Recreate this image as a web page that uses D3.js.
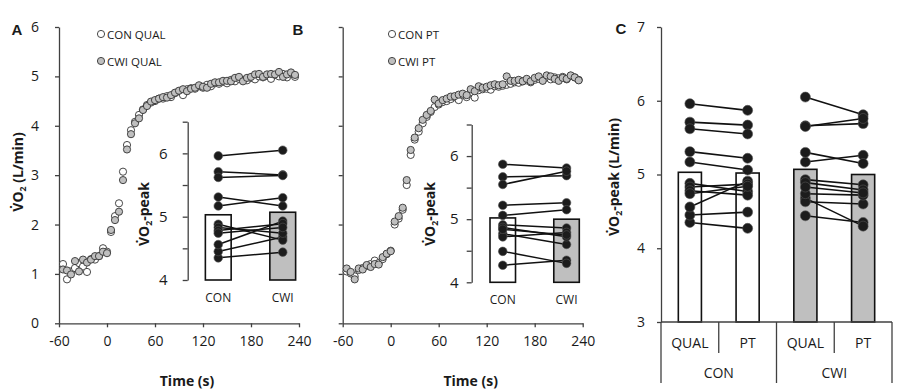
<!DOCTYPE html>
<html>
<head>
<meta charset="utf-8">
<script src="https://cdn.jsdelivr.net/npm/d3@7"></script>
<style>
body{margin:0;background:#fff;}
text{font-family:"Open Sans",sans-serif;fill:#1a1a1a;}
</style>
</head>
<body>
<script>
// time (s) of each breath-averaged sample
const times = [-55,-50,-45,-40,-35,-30,-25,-20,-15,-10,-5,0,5,10,15,20,25,30,35,40,45,50,55,60,65,70,75,80,85,90,95,100,105,110,115,120,125,130,135,140,145,150,155,160,165,170,175,180,185,190,195,200,205,210,215,220,225,230,235];

// panel A: VO2 (L/min) qualification run
const conQualCurve = [1.20,0.89,1.05,1.12,1.22,1.15,1.04,1.30,1.29,1.36,1.52,1.45,1.85,2.17,2.43,3.07,3.61,3.91,4.08,4.22,4.33,4.42,4.47,4.50,4.55,4.55,4.60,4.58,4.66,4.70,4.62,4.74,4.76,4.75,4.80,4.77,4.83,4.80,4.86,4.85,4.89,4.86,4.93,4.90,4.95,4.93,4.92,4.97,4.94,5.00,4.98,5.01,4.95,5.03,5.00,5.05,4.98,5.06,4.99];
const cwiQualCurve = [1.09,1.07,0.99,1.26,1.05,1.29,1.23,1.29,1.36,1.36,1.45,1.42,1.89,2.09,2.26,2.90,3.52,3.83,4.05,4.15,4.32,4.40,4.49,4.52,4.55,4.58,4.57,4.62,4.67,4.71,4.74,4.70,4.75,4.77,4.82,4.79,4.77,4.85,4.88,4.88,4.91,4.91,4.90,4.97,4.99,4.90,4.97,4.99,5.04,5.05,4.99,5.04,5.05,5.04,5.09,4.99,5.04,5.08,5.03];

// panel B: VO2 (L/min) performance test
const conPtCurve = [1.05,1.01,0.95,1.08,1.12,1.16,1.20,1.27,1.22,1.30,1.40,1.47,2.00,2.12,2.30,2.80,3.41,3.72,3.88,4.05,4.18,4.28,4.38,4.43,4.48,4.50,4.54,4.58,4.52,4.62,4.58,4.68,4.57,4.72,4.74,4.75,4.73,4.80,4.79,4.81,4.83,4.85,4.88,4.87,4.90,4.92,4.88,4.93,4.95,4.92,4.98,4.94,4.98,4.96,4.99,4.94,5.01,4.98,4.93];
const cwiPtCurve = [1.11,1.04,0.89,1.11,1.09,1.18,1.14,1.20,1.19,1.34,1.41,1.46,2.06,2.17,2.34,2.90,3.51,3.76,3.95,4.12,4.22,4.30,4.53,4.45,4.52,4.55,4.59,4.60,4.63,4.65,4.62,4.74,4.70,4.80,4.77,4.79,4.82,4.84,4.82,4.84,5.00,4.91,4.91,4.93,4.90,4.95,4.90,4.97,5.00,4.91,5.02,5.00,4.95,4.91,4.97,4.95,5.02,4.98,4.92];

// individual VO2-peak (L/min), same subject order in every array
const conQualPeak = [5.96,5.71,5.62,5.31,5.17,4.35,4.45,4.56,4.88,4.83,4.78,4.74];
const conPtPeak   = [5.87,5.67,5.55,5.22,5.06,4.27,4.49,4.91,4.77,4.87,4.72,4.84];
const cwiQualPeak = [6.05,5.66,5.65,5.17,5.30,4.44,4.68,4.93,4.63,4.74,4.89,4.83];
const cwiPtPeak   = [5.81,5.69,5.76,5.26,5.15,4.35,4.30,4.86,4.60,4.72,4.79,4.75];

// group means (bars)
const qualMeans = [5.03, 5.07];   // CON, CWI
const ptMeans   = [5.02, 5.00];   // CON, CWI

const groups = ["CON", "CWI"];
const sessions = ["QUAL", "PT"];
const timeTicks = [-60, 0, 60, 120, 180, 240];

const axisColor = "#404040";
const grayFill = "#bfbfbf";

const svg = d3.select("body").append("svg")
  .attr("width", 906).attr("height", 391);

function styleAxis(g, fontSize){
  g.attr("font-family", null).attr("font-size", null);
  g.select(".domain").attr("stroke", axisColor).attr("stroke-width", 1.3);
  g.selectAll(".tick line").attr("stroke", axisColor).attr("stroke-width", 1.3);
  g.selectAll(".tick text").attr("font-size", fontSize).attr("fill", "#1a1a1a");
}

function vo2Label(x, y, suffix, size){
  const t = svg.append("text")
    .attr("transform", "translate(" + x + "," + y + ") rotate(-90)")
    .attr("text-anchor", "middle")
    .attr("font-weight", "bold")
    .attr("font-size", size);
  t.append("tspan").text("V\u0307O");
  t.append("tspan").attr("font-size", size*0.62).attr("dy", 3).text("2");
  t.append("tspan").attr("dy", -3).text(suffix);
}

const yMain = d3.scaleLinear().domain([0, 6]).range([323.3, 27]);

function drawCurvePanel(x0, con, cwi, legend, legendX, letter, letterX){
  const x = d3.scaleLinear().domain([-60, 240]).range([x0, x0 + 240]);

  styleAxis(svg.append("g")
    .attr("transform", "translate(0," + yMain(0) + ")")
    .call(d3.axisBottom(x).tickValues(timeTicks).tickFormat(d => String(d))
      .tickSize(4).tickSizeOuter(0).tickPadding(9)), 14);

  if (x0 < 100) {
    styleAxis(svg.append("g")
      .attr("transform", "translate(" + x0 + ",0)")
      .call(d3.axisLeft(yMain).ticks(6).tickSize(4).tickSizeOuter(0).tickPadding(16)), 14);
  } else {
    styleAxis(svg.append("g")
      .attr("transform", "translate(" + x0 + ",0)")
      .call(d3.axisLeft(yMain).ticks(6).tickSize(4).tickSizeOuter(0).tickFormat("")), 14);
  }

  [[con, "#fff"], [cwi, grayFill]].forEach(([vals, fill]) => {
    svg.append("g").selectAll("circle")
      .data(vals)
      .enter().append("circle")
      .attr("cx", (d, i) => x(times[i]))
      .attr("cy", d => yMain(d))
      .attr("r", 3.6)
      .attr("fill", fill)
      .attr("stroke", "#333")
      .attr("stroke-width", 0.9);
  });

  // legend
  legend.forEach((lab, i) => {
    svg.append("circle")
      .attr("cx", legendX).attr("cy", 34 + i*27).attr("r", 3.6)
      .attr("fill", i == 0 ? "#fff" : grayFill)
      .attr("stroke", "#333").attr("stroke-width", 0.9);
    svg.append("text")
      .attr("x", legendX + 6).attr("y", 38.5 + i*27)
      .attr("font-size", 11.5)
      .text(lab);
  });

  svg.append("text")
    .attr("x", x0 + 128).attr("y", 386)
    .attr("text-anchor", "middle")
    .attr("font-weight", "bold")
    .attr("font-size", 14)
    .text("Time (s)");

  svg.append("text")
    .attr("x", letterX).attr("y", 35)
    .attr("text-anchor", "middle")
    .style("font-family", "'Liberation Sans', Arial, sans-serif")
    .attr("font-weight", "bold")
    .attr("font-size", 15)
    .text(letter);
}

function drawInset(axisX, y4, y65, rangeEnd, padOuter, labelPad, left, right, means, labelX){
  const y = d3.scaleLinear().domain([4, 6.5]).range([y4, y65]);
  const x = d3.scaleBand().domain(groups).range([axisX, rangeEnd])
    .paddingInner(0.6).paddingOuter(padOuter);

  styleAxis(svg.append("g")
    .attr("transform", "translate(" + axisX + ",0)")
    .call(d3.axisLeft(y).tickValues([4, 4.5, 5, 5.5, 6, 6.5])
      .tickFormat(d => (d % 1 == 0 && d < 6.5) ? String(d) : "")
      .tickSize(5).tickSizeOuter(0).tickPadding(labelPad)), 15);

  svg.append("g").selectAll("rect")
    .data(groups)
    .enter().append("rect")
    .attr("x", d => x(d))
    .attr("y", (d, i) => y(means[i]))
    .attr("width", x.bandwidth())
    .attr("height", (d, i) => y(4) - y(means[i]))
    .attr("fill", (d, i) => i == 0 ? "#fff" : grayFill)
    .attr("stroke", "#111")
    .attr("stroke-width", 1.6);

  const cx0 = x("CON") + x.bandwidth()/2;
  const cx1 = x("CWI") + x.bandwidth()/2;
  svg.append("g").selectAll("line")
    .data(left)
    .enter().append("line")
    .attr("x1", cx0).attr("y1", d => y(d))
    .attr("x2", cx1).attr("y2", (d, i) => y(right[i]))
    .attr("stroke", "#111").attr("stroke-width", 1.5);
  [[left, cx0], [right, cx1]].forEach(([vals, cx]) => {
    svg.append("g").selectAll("circle")
      .data(vals)
      .enter().append("circle")
      .attr("cx", cx).attr("cy", d => y(d)).attr("r", 4.3)
      .attr("fill", "#1c1c1c").attr("stroke", "#555").attr("stroke-width", 0.6);
  });

  svg.append("g").selectAll("text")
    .data(groups)
    .enter().append("text")
    .attr("x", d => x(d) + x.bandwidth()/2)
    .attr("y", y4 + 22)
    .attr("text-anchor", "middle")
    .attr("font-size", 12)
    .text(d => d);

  vo2Label(labelX, 214, "-peak", 14);
}

// panel A
drawCurvePanel(59, conQualCurve, cwiQualCurve, ["CON QUAL", "CWI QUAL"], 101, "A", 17);
drawInset(187.7, 280, 121.7, 313.3, 0.274, 15, conQualPeak, cwiQualPeak, qualMeans, 149);

// panel B
drawCurvePanel(342.7, conPtCurve, cwiPtCurve, ["CON PT", "CWI PT"], 392, "B", 298);
drawInset(471.7, 282.3, 124.5, 597.6, 0.287, 8, conPtPeak, cwiPtPeak, ptMeans, 435);

vo2Label(23, 172, " (L/min)", 14);

// panel C
const cats = ["CON QUAL", "CON PT", "CWI QUAL", "CWI PT"];
const catMeans = [qualMeans[0], ptMeans[0], qualMeans[1], ptMeans[1]];
const yC = d3.scaleLinear().domain([3, 7]).range([322, 27]);
const xC = d3.scaleBand().domain(cats).range([661, 892])
  .paddingInner(0.6).paddingOuter(0.3);

styleAxis(svg.append("g")
  .attr("transform", "translate(661,0)")
  .call(d3.axisLeft(yC).ticks(4).tickSize(4).tickSizeOuter(0).tickPadding(12)), 14);

svg.append("g").selectAll("rect")
  .data(cats)
  .enter().append("rect")
  .attr("x", d => xC(d))
  .attr("y", (d, i) => yC(catMeans[i]))
  .attr("width", xC.bandwidth())
  .attr("height", (d, i) => yC(3) - yC(catMeans[i]))
  .attr("fill", (d, i) => i < 2 ? "#fff" : grayFill)
  .attr("stroke", "#111")
  .attr("stroke-width", 1.6);

const mid = c => xC(c) + xC.bandwidth()/2;
[[conQualPeak, conPtPeak, "CON"], [cwiQualPeak, cwiPtPeak, "CWI"]].forEach(([a, b, g]) => {
  const xa = mid(g + " QUAL"), xb = mid(g + " PT");
  svg.append("g").selectAll("line")
    .data(a)
    .enter().append("line")
    .attr("x1", xa).attr("y1", d => yC(d))
    .attr("x2", xb).attr("y2", (d, i) => yC(b[i]))
    .attr("stroke", "#111").attr("stroke-width", 1.6);
  [[a, xa], [b, xb]].forEach(([vals, cx]) => {
    svg.append("g").selectAll("circle")
      .data(vals)
      .enter().append("circle")
      .attr("cx", cx).attr("cy", d => yC(d)).attr("r", 5)
      .attr("fill", "#1c1c1c").attr("stroke", "#555").attr("stroke-width", 0.6);
  });
});

// two-level category axis
const r0 = xC.range()[0];
const step = xC.step();
svg.append("line")
  .attr("x1", r0).attr("x2", xC.range()[1])
  .attr("y1", yC(3)).attr("y2", yC(3))
  .attr("stroke", axisColor).attr("stroke-width", 1.3);
svg.append("g").selectAll("line")
  .data(d3.range(cats.length + 1))
  .enter().append("line")
  .attr("x1", k => r0 + k*step).attr("x2", k => r0 + k*step)
  .attr("y1", yC(3))
  .attr("y2", k => k % 2 == 0 ? 383 : 353)
  .attr("stroke", axisColor).attr("stroke-width", 1.3);
svg.append("g").selectAll("text")
  .data(cats)
  .enter().append("text")
  .attr("x", d => mid(d))
  .attr("y", 348)
  .attr("text-anchor", "middle")
  .attr("font-size", 14)
  .text(d => d.split(" ")[1]);
svg.append("g").selectAll("text")
  .data(groups)
  .enter().append("text")
  .attr("x", (d, i) => r0 + (2*i + 1)*step)
  .attr("y", 378)
  .attr("text-anchor", "middle")
  .attr("font-size", 14)
  .text(d => d);

vo2Label(619, 177, "-peak (L/min)", 14);

svg.append("text")
  .attr("x", 621).attr("y", 34)
  .attr("text-anchor", "middle")
  .style("font-family", "'Liberation Sans', Arial, sans-serif")
  .attr("font-weight", "bold")
  .attr("font-size", 15)
  .text("C");
</script>
</body>
</html>
